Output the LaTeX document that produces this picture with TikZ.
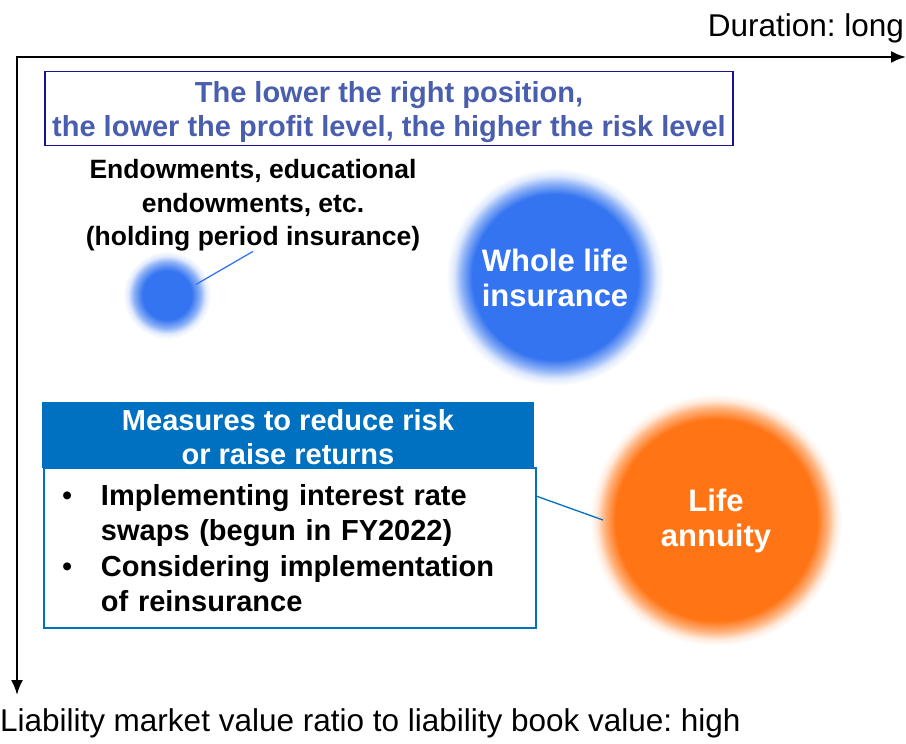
\documentclass[tikz,border=0pt]{standalone}
\usepackage{fontspec}
\setmainfont{Liberation Sans}
\usetikzlibrary{calc,positioning,arrows.meta,shapes}
\frenchspacing
\definecolor{circblue}{RGB}{52,116,240}
\definecolor{annorange}{RGB}{255,117,22}
\definecolor{hdrblue}{RGB}{0,112,192}
\definecolor{titleblue}{RGB}{74,94,174}
\definecolor{titlenavy}{RGB}{20,20,150}
\colorlet{blueedge}{circblue!55!white}
\colorlet{blueedgeB}{circblue!15!white}
\colorlet{orangeedge}{annorange!55!white}
\colorlet{orangeedgeB}{annorange!15!white}
\pgfdeclareradialshading{blobS}{\pgfpoint{0bp}{0bp}}{color(0bp)=(circblue); color(14bp)=(circblue); color(19bp)=(blueedge); color(22bp)=(blueedgeB); color(25bp)=(white); color(50bp)=(white)}
\pgfdeclareradialshading{blobL}{\pgfpoint{0bp}{0bp}}{color(0bp)=(circblue); color(19bp)=(circblue); color(21.5bp)=(blueedge); color(23.3bp)=(blueedgeB); color(25bp)=(white); color(50bp)=(white)}
\pgfdeclareradialshading{blobO}{\pgfpoint{0bp}{0bp}}{color(0bp)=(annorange); color(20bp)=(annorange); color(22.2bp)=(orangeedge); color(23.7bp)=(orangeedgeB); color(25bp)=(white); color(50bp)=(white)}

\begin{document}
\begin{tikzpicture}[x=1pt,y=-1pt,
	every node/.style={inner sep=0pt,outer sep=0pt},
	bold/.style={font=\fontsize{29}{34}\selectfont\bfseries,align=center},
	blob/.style={circle,text=white,font=\fontsize{31}{35}\selectfont\bfseries,align=center},
	axis/.style={line width=2.2pt,{Latex[length=15pt,width=12pt]}-{Latex[length=15pt,width=12pt]}},
	link/.style={line width=1.3pt}]
	\useasboundingbox (0,0) rectangle (906,744);
	\coordinate (corner) at (17,57);
	\coordinate (xtip) at (906,57);
	\coordinate (ytip) at (17,695);
	\draw[axis] (ytip) -- (corner) -- (xtip);
	\node[anchor=base east,font=\fontsize{31.5}{36}\selectfont] (xlab) at (904,36) {Duration: long};
	\node[anchor=base west,font=\fontsize{31.5}{36}\selectfont] (ylab) at (0,731) {Liability market value ratio to liability book value: high};
	\node[draw=titlenavy,line width=1.4pt,minimum width=688pt,minimum height=74pt,text=titleblue,bold] (title) at (389,108.5)
		{\rule{0pt}{28pt}The lower the right position,\\the lower the profit level, the higher the risk level};
	\node[bold,font=\fontsize{26.5}{33.5}\selectfont\bfseries] (endow) at (253,205.5)
		{Endowments, educational\\endowments, etc.\\(holding period insurance)};
	\node[blob,shading=blobS,minimum size=88pt] (endowDot) at (167,295) {};
	\node[blob,shading=blobL,minimum size=218pt] (whole) at (555,277) {\rule{0pt}{24pt}Whole life\\insurance};
	\node[blob,shading=blobO,minimum size=252pt] (annuity) at (716,520) {\rule{0pt}{24pt}Life\\annuity};
	\node[fill=hdrblue,minimum width=492pt,minimum height=66pt,text=white,bold] (measHead) at (288,435)
		{\rule{0pt}{25pt}Measures to reduce risk\\or raise returns};
	\node[draw=hdrblue,line width=1.4pt,below=0pt of measHead,xshift=2pt,minimum height=160pt,text width=456pt,
		inner xsep=18pt,align=left,font=\fontsize{29}{35.3}\selectfont\bfseries] (measBody)
		{\makebox[39pt][l]{\mdseries•}Implementing interest rate\\
		\hspace*{39pt}swaps (begun in FY2022)\\
		\makebox[39pt][l]{\mdseries•}Considering implementation\\
		\hspace*{39pt}of reinsurance};
	\draw[link,circblue] (endow.south) -- ($(endowDot.center)!0.7!(endowDot.20)$);
	\draw[link,hdrblue] ([yshift=-28pt]measBody.north east) -- ([xshift=13pt]annuity.west);
\end{tikzpicture}
\end{document}
